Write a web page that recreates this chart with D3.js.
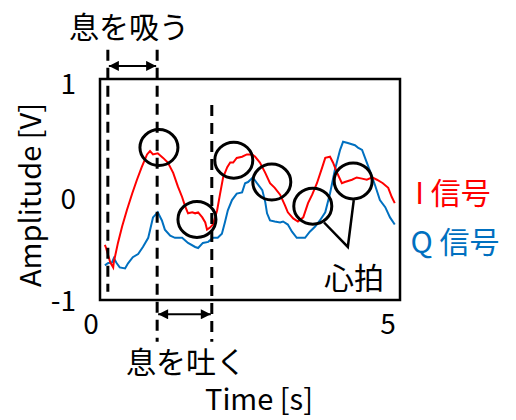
<!DOCTYPE html>
<html><head><meta charset="utf-8">
<script src="https://cdn.jsdelivr.net/npm/d3@7"></script>
<style>
html,body{margin:0;padding:0;background:#fff;}
svg text{font-family:"Noto Sans CJK JP","Noto Sans",sans-serif;}
</style></head>
<body><svg id="chart" width="516" height="420"></svg>
<script>
// ---- data ----
const timeI = [0.20,0.22,0.29,0.34,0.35,0.42,0.49,0.57,0.66,0.74,0.82,0.91,0.96,1.01,1.09,1.18,1.26,1.35,1.43,1.50,1.55,1.60,1.67,1.72,1.77,1.84,1.89,1.92,1.97,2.02,2.09,2.14,2.19,2.26,2.31,2.36,2.42,2.51,2.59,2.68,2.73,2.81,2.90,2.98,3.06,3.15,3.23,3.28,3.37,3.45,3.54,3.62,3.69,3.77,3.86,3.91,3.99,4.04,4.11,4.19,4.24,4.36,4.44,4.53,4.61,4.70,4.78,4.88,4.97,5.03,5.08];
const signalI = [-0.47,-0.50,-0.64,-0.69,-0.64,-0.45,-0.29,-0.13,0.03,0.15,0.26,0.37,0.40,0.37,0.38,0.34,0.30,0.21,0.09,0.00,-0.09,-0.16,-0.15,-0.16,-0.15,-0.20,-0.25,-0.32,-0.30,-0.27,-0.13,0.03,0.17,0.26,0.30,0.30,0.34,0.35,0.37,0.37,0.35,0.30,0.21,0.12,0.08,0.02,-0.08,-0.15,-0.21,-0.24,-0.20,-0.06,0.02,0.12,0.26,0.34,0.35,0.30,0.21,0.12,0.13,0.15,0.17,0.16,0.15,0.17,0.15,0.12,0.08,0.00,-0.06];
const timeQ = [0.20,0.25,0.32,0.35,0.40,0.45,0.54,0.59,0.67,0.76,0.84,0.93,1.01,1.09,1.16,1.21,1.30,1.38,1.50,1.60,1.72,1.77,1.85,1.94,2.02,2.10,2.17,2.22,2.27,2.34,2.42,2.51,2.56,2.61,2.69,2.76,2.85,2.90,2.93,2.98,3.06,3.15,3.20,3.28,3.35,3.43,3.52,3.57,3.65,3.74,3.82,3.91,3.99,4.07,4.16,4.21,4.29,4.41,4.46,4.53,4.58,4.66,4.75,4.83,4.92,5.00,5.08];
const signalQ = [-0.67,-0.65,-0.64,-0.60,-0.65,-0.69,-0.70,-0.65,-0.59,-0.56,-0.49,-0.40,-0.20,-0.15,-0.23,-0.32,-0.38,-0.40,-0.40,-0.45,-0.49,-0.50,-0.45,-0.44,-0.40,-0.40,-0.36,-0.25,-0.13,-0.03,0.03,0.04,0.12,0.13,0.17,0.12,0.06,-0.05,-0.16,-0.23,-0.24,-0.25,-0.24,-0.27,-0.34,-0.40,-0.40,-0.40,-0.34,-0.29,-0.23,-0.15,0.03,0.23,0.41,0.48,0.47,0.45,0.43,0.41,0.34,0.23,0.10,-0.03,-0.10,-0.20,-0.27];
const xTicks = [0, 5];
const yTicks = [1, 0, -1];
const seriesNames = ["I 信号", "Q 信号"];
// annotations (data units)
const beatCirclesT = [1.11, 1.75, 2.37, 3.01, 3.70, 4.38];
const beatCirclesV = [0.43, -0.22, 0.32, 0.13, -0.09, 0.14];
const dashT = [0.25, 1.08, 2.00];
const dashTop = [1.28, 1.28, 0.80];
const dashBottom = [-0.93, -1.42, -1.42];
const inhaleSpan = [0.25, 1.08]; const inhaleV = 1.14;
const exhaleSpan = [1.08, 2.00]; const exhaleV = -1.15;
const calloutT = [3.89, 4.29, 4.39];
const calloutV = [-0.25, -0.49, -0.03];

// ---- drawing ----
const svg = d3.select("#chart");
const x = d3.scaleLinear().domain([0, 5]).range([93, 390]);
const y = d3.scaleLinear().domain([-1, 0, 1]).range([299, 197, 82]);
const frame = {left: 100, top: 79, right: 400, bottom: 300};

const defs = svg.append("defs");
defs.append("marker").attr("id","ah").attr("viewBox","0 0 10 10").attr("refX",10).attr("refY",5)
  .attr("markerWidth",12).attr("markerHeight",10).attr("markerUnits","userSpaceOnUse")
  .attr("orient","auto-start-reverse")
  .append("path").attr("d","M0,0 L10,5 L0,10 z").attr("fill","#000");

// signals
const line = d3.line().x(d => x(d[0])).y(d => y(d[1]));
svg.append("path").datum(timeQ.map((t,i)=>[t, signalQ[i]]))
  .attr("d", line).attr("fill","none").attr("stroke","#0070c0").attr("stroke-width",2);
svg.append("path").datum(timeI.map((t,i)=>[t, signalI[i]]))
  .attr("d", line).attr("fill","none").attr("stroke","#ff0000").attr("stroke-width",2);

// frame
svg.append("rect").attr("x",frame.left).attr("y",frame.top)
  .attr("width",frame.right-frame.left).attr("height",frame.bottom-frame.top)
  .attr("fill","none").attr("stroke","#000").attr("stroke-width",2.5);

// dashed lines
dashT.forEach((t,i)=>{
  svg.append("line").attr("x1",x(t)).attr("x2",x(t)).attr("y1",y(dashTop[i])).attr("y2",y(dashBottom[i]))
    .attr("stroke","#000").attr("stroke-width",3).attr("stroke-dasharray","11,7");
});

// arrows
[[inhaleSpan, inhaleV],[exhaleSpan, exhaleV]].forEach(([s,v])=>{
  svg.append("line").attr("x1",x(s[0])+1).attr("x2",x(s[1])-1).attr("y1",y(v)).attr("y2",y(v))
    .attr("stroke","#000").attr("stroke-width",2)
    .attr("marker-start","url(#ah)").attr("marker-end","url(#ah)");
});

// circles
beatCirclesT.forEach((t,i)=>{
  svg.append("ellipse").attr("cx",x(t)).attr("cy",y(beatCirclesV[i])).attr("rx",19).attr("ry",18)
    .attr("fill","none").attr("stroke","#000").attr("stroke-width",3);
});
// callout
svg.append("path").datum(calloutT.map((t,i)=>[t, calloutV[i]]))
  .attr("d", line).attr("fill","none").attr("stroke","#000").attr("stroke-width",2.5);

// tick labels
svg.selectAll(".xt").data(xTicks).join("text").attr("x",d=>x(d)-2).attr("y",322)
  .attr("text-anchor","middle").attr("dominant-baseline","central").attr("font-size",28).text(d=>d);
svg.selectAll(".yt").data(yTicks).join("text").attr("x",76).attr("y",d=>y(d))
  .attr("text-anchor","end").attr("dominant-baseline","central").attr("font-size",28).text(d=>d);

// axis titles
svg.append("text").attr("x",259).attr("y",397).attr("text-anchor","middle").attr("dominant-baseline","central")
  .attr("font-size",29).text("Time [s]");
svg.append("text").attr("transform","translate(28,195) rotate(-90)").attr("text-anchor","middle")
  .attr("dominant-baseline","central").attr("font-size",29).text("Amplitude [V]");

// annotations text
svg.append("text").attr("x",129).attr("y",25).attr("text-anchor","middle").attr("dominant-baseline","central")
  .attr("font-size",30).text("息を吸う");
svg.append("text").attr("x",186).attr("y",360).attr("text-anchor","middle").attr("dominant-baseline","central")
  .attr("font-size",30).text("息を吐く");
svg.append("text").attr("x",354).attr("y",276).attr("text-anchor","middle").attr("dominant-baseline","central")
  .attr("font-size",30).text("心拍");
svg.append("text").attr("x",453).attr("y",191).attr("text-anchor","middle").attr("dominant-baseline","central")
  .attr("font-size",30).attr("fill","#ff0000").text(seriesNames[0]);
svg.append("text").attr("x",455).attr("y",240).attr("text-anchor","middle").attr("dominant-baseline","central")
  .attr("font-size",30).attr("fill","#0070c0").text(seriesNames[1]);
</script></body></html>
